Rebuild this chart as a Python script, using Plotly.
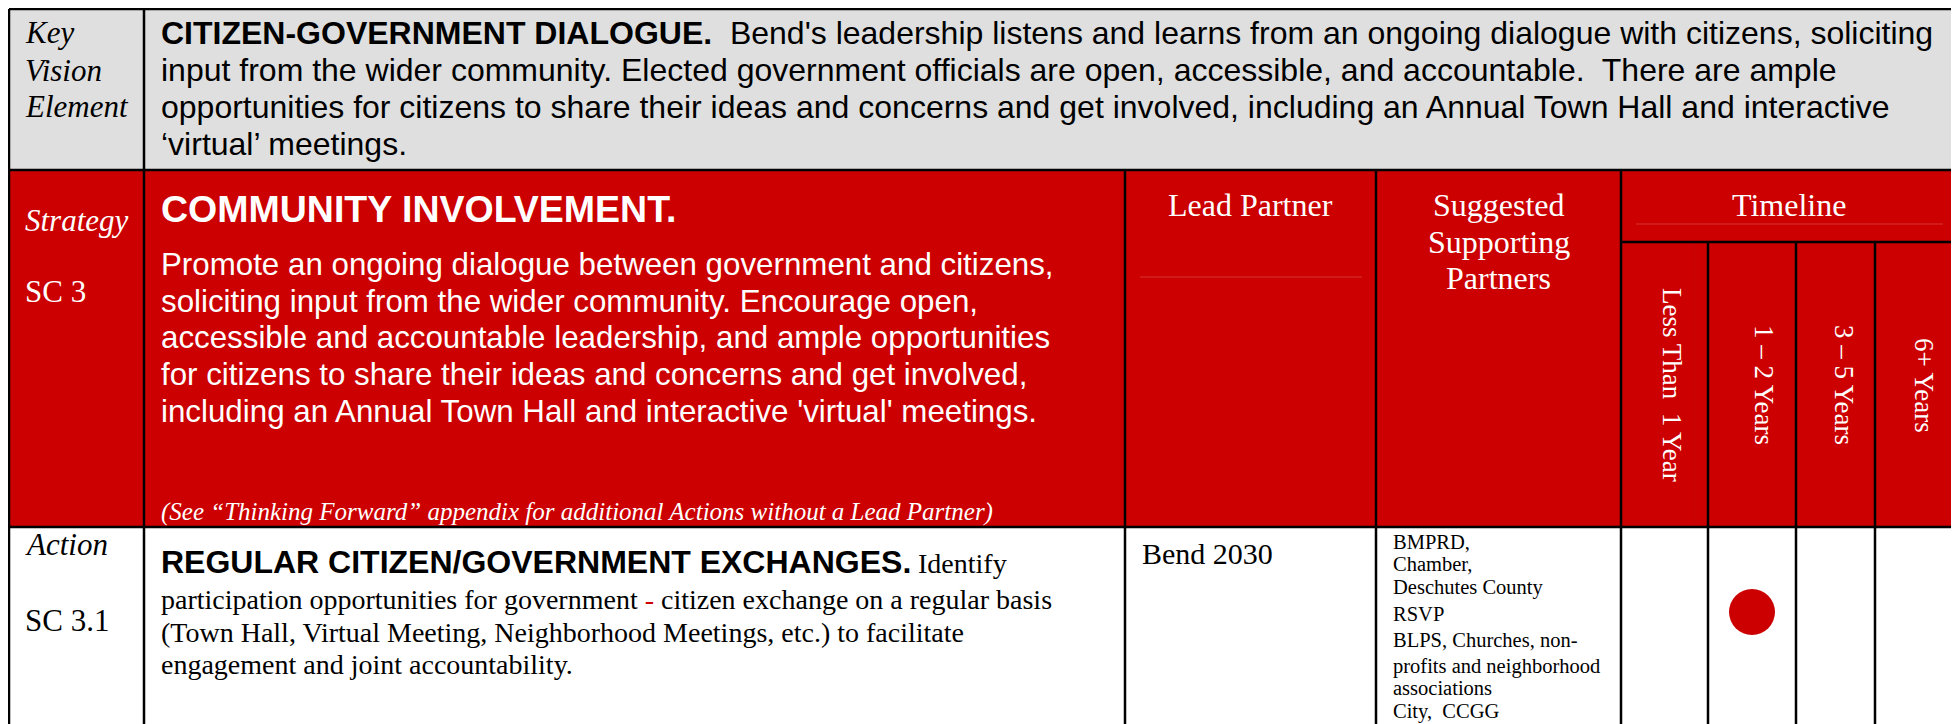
import plotly.graph_objects as go

# ---------------- data (text content of the table) ----------------
vision_label = ["Key", "Vision", "Element"]
vision_title = "CITIZEN-GOVERNMENT DIALOGUE."
vision_lines = [
    "  Bend's leadership listens and learns from an ongoing dialogue with citizens, soliciting",
    "input from the wider community. Elected government officials are open, accessible, and accountable.  There are ample",
    "opportunities for citizens to share their ideas and concerns and get involved, including an Annual Town Hall and interactive",
    "\u2018virtual\u2019 meetings.",
]
strategy_label = "Strategy"
strategy_code = "SC 3"
strategy_title = "COMMUNITY INVOLVEMENT."
strategy_lines = [
    "Promote an ongoing dialogue between government and citizens,",
    "soliciting input from the wider community. Encourage open,",
    "accessible and accountable leadership, and ample opportunities",
    "for citizens to share their ideas and concerns and get involved,",
    "including an Annual Town Hall and interactive 'virtual' meetings.",
]
strategy_note = "(See \u201cThinking Forward\u201d appendix for additional Actions without a Lead Partner)"
header_lead = "Lead Partner"
header_support = ["Suggested", "Supporting", "Partners"]
header_timeline = "Timeline"
timeline_categories = ["Less Than  1 Year", "1 \u2013 2 Years", "3 \u2013 5 Years", "6+ Years"]

action_label = "Action"
action_code = "SC 3.1"
action_title = "REGULAR CITIZEN/GOVERNMENT EXCHANGES."
action_title_tail = "Identify"
action_lines = [
    "participation opportunities for government <span style='color:#CC0000'>-</span> citizen exchange on a regular basis",
    "(Town Hall, Virtual Meeting, Neighborhood Meetings, etc.) to facilitate",
    "engagement and joint accountability.",
]
lead_partner = "Bend 2030"
supporting_partners = [
    "BMPRD,", "Chamber,", "Deschutes County", "RSVP", "BLPS, Churches, non-",
    "profits and neighborhood", "associations", "City,  CCGG",
]
action_timeline = "1 \u2013 2 Years"

# ---------------- layout / styling ----------------
PAGE_W, PAGE_H = 1959, 724
BODY_MARGIN = 8          # default page margin around the plot div
RED = "#CC0000"
GRAY = "#DFDFDF"
SANS = "Liberation Sans, Arial, sans-serif"
SERIF = "Liberation Serif, Times New Roman, serif"

col_x = [9, 144, 1125, 1376, 1621, 1708, 1796, 1875, 1956]
row_y = [9, 170, 527, PAGE_H + 5]
tl_sub_y = 242

fig = go.Figure()
shapes = []
annotations = []


def rect(x0, y0, x1, y1, color):
    shapes.append(dict(type="rect", xref="x", yref="y", x0=x0, y0=y0, x1=x1, y1=y1,
                       fillcolor=color, line=dict(width=0), layer="below"))


def line(x0, y0, x1, y1, color="black", width=2.5):
    shapes.append(dict(type="line", xref="x", yref="y", x0=x0, y0=y0, x1=x1, y1=y1,
                       line=dict(color=color, width=width)))


def text(x, baseline, s, size, family, color="black", anchor="left", italic=False, bold=False, k=0.34):
    annotations.append(dict(
        x=x, y=baseline - k * size, xref="x", yref="y", text=s, showarrow=False,
        xanchor=anchor, yanchor="middle", align=anchor,
        font=dict(size=size, family=family, color=color,
                  style="italic" if italic else "normal",
                  weight="bold" if bold else "normal"),
    ))


# backgrounds
rect(col_x[0], row_y[0], col_x[-1], row_y[1], GRAY)
rect(col_x[0], row_y[1], col_x[-1], row_y[2], RED)
rect(col_x[0], row_y[2], col_x[-1], row_y[3], "white")

# faint lines inside header
line(1140, 277, 1362, 277, color="#D93434", width=1)
line(1636, 224, 1943, 224, color="#D93434", width=1)
line(1694, tl_sub_y + 2, 1694, row_y[2] - 2, color="#C40606", width=1)

# grid lines
line(col_x[0], row_y[0], col_x[-1], row_y[0])
line(col_x[0], row_y[1], col_x[-1], row_y[1])
line(col_x[0], row_y[2], col_x[-1], row_y[2])
line(col_x[0], row_y[0], col_x[0], row_y[3])
line(col_x[-1], row_y[0], col_x[-1], row_y[3])
line(col_x[1], row_y[0], col_x[1], row_y[3])
for cx in col_x[2:5]:
    line(cx, row_y[1], cx, row_y[3])
for cx in col_x[5:8]:
    line(cx, tl_sub_y, cx, row_y[3])
line(col_x[4], tl_sub_y, col_x[-1], tl_sub_y)

# ----- row 1: key vision element -----
for s, b in zip(vision_label, [43, 81, 117]):
    text(23, b, s, 31, SERIF, italic=True)
vision_base = [44, 81, 118, 155]
text(159, vision_base[0], "<b>" + vision_title + "</b>" + vision_lines[0], 32, SANS, k=0.35)
for s, b in zip(vision_lines[1:], vision_base[1:]):
    text(159, b, s, 32, SANS, k=0.35)

# ----- row 2: strategy -----
text(23, 231, strategy_label, 31, SERIF, color="white", italic=True)
text(23, 302, strategy_code, 31, SERIF, color="white")
text(159, 222, strategy_title, 37.5, SANS, color="white", bold=True, k=0.35)
for s, b in zip(strategy_lines, [275, 312, 348, 385, 422]):
    text(159, b, s, 31.3, SANS, color="white", k=0.35)
text(159, 520, strategy_note, 25, SERIF, color="white", italic=True)

text((col_x[2] + col_x[3]) / 2, 216, header_lead, 32, SERIF, color="white", anchor="center")
for s, b in zip(header_support, [216, 253, 289]):
    text((col_x[3] + col_x[4]) / 2, b, s, 32, SERIF, color="white", anchor="center")
text((col_x[4] + col_x[-1]) / 2, 216, header_timeline, 32, SERIF, color="white", anchor="center")

tl_edges = col_x[4:]
tl_text_x = [1672, 1764, 1844, 1924]
for s, tx in zip(timeline_categories, tl_text_x):
    annotations.append(dict(
        x=tx, y=385, xref="x", yref="y", text=s, showarrow=False, textangle=90,
        xanchor="center", yanchor="middle",
        font=dict(size=27, family=SERIF, color="white"),
    ))

# ----- row 3: action -----
text(23, 555, action_label, 31, SERIF, italic=True)
text(23, 631, action_code, 31, SERIF)
text(159, 573, action_title, 32, SANS, bold=True, k=0.35)
text(916, 573, action_title_tail, 28, SERIF)
for s, b in zip(action_lines, [609, 642, 674]):
    text(159, b, s, 28, SERIF)
text(1140, 564, lead_partner, 30, SERIF)
for s, b in zip(supporting_partners, [549, 571, 594, 621, 647, 673, 695, 718]):
    text(1391, b, s, 20.5, SERIF)

# timeline marker: placed in the column of the chosen timeline category
idx = timeline_categories.index(action_timeline)
mx = (tl_edges[idx] + tl_edges[idx + 1]) / 2
fig.add_trace(go.Scatter(
    x=[mx], y=[612], mode="markers",
    marker=dict(size=46, color=RED, line=dict(width=0)),
    hoverinfo="skip", showlegend=False,
))

# the plot div sits inside the page's default body margin: size and range the
# axes so that data coordinates equal page pixel coordinates
fig.update_layout(
    width=PAGE_W - BODY_MARGIN, height=PAGE_H - BODY_MARGIN,
    margin=dict(l=0, r=0, t=0, b=0),
    paper_bgcolor="white", plot_bgcolor="white",
    xaxis=dict(range=[BODY_MARGIN, PAGE_W], visible=False, fixedrange=True),
    yaxis=dict(range=[PAGE_H, BODY_MARGIN], visible=False, fixedrange=True),
    shapes=shapes, annotations=annotations, showlegend=False,
)
fig.write_html("out.html")
